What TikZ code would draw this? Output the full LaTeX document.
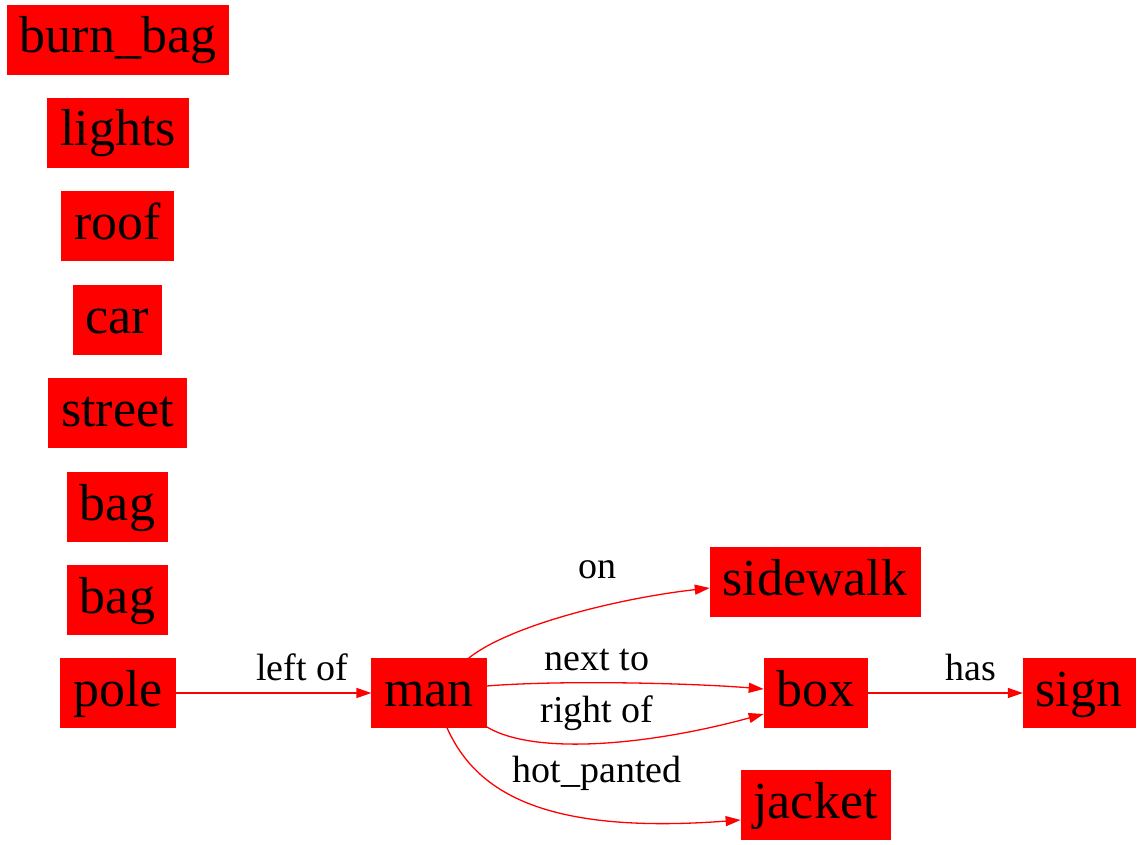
\documentclass[tikz,border=0pt]{standalone}
\usepackage{fontspec}
\setmainfont{Liberation Serif}
\usetikzlibrary{arrows.meta}
\tikzset{
  obj/.style={fill=red, draw=red, line width=0.6pt, inner xsep=12.5pt, inner ysep=0pt,
    minimum height=69pt, text height=39pt, text depth=12pt,
    font=\fontsize{52}{60}\selectfont},
  rel/.style={red, line width=1.3pt, -{Triangle[length=15pt,width=10pt]}},
  lbl/.style={anchor=base, inner sep=0pt, font=\fontsize{38}{44}\selectfont}
}
\begin{document}
\begin{tikzpicture}[x=1pt,y=-1pt]
\useasboundingbox[fill=white] (0,0) rectangle (1140,845);
\node[obj] (burnbag) at (118,39.5) {burn\_bag};
\node[obj] (lights) at (118,132.5) {lights};
\node[obj] (roof) at (117.5,226) {roof};
\node[obj] (car) at (117.5,319.5) {car};
\node[obj] (street) at (117.5,412.5) {street};
\node[obj] (bagA) at (117.5,506.5) {bag};
\node[obj] (bagB) at (117.5,599.5) {bag};
\node[obj] (pole) at (118,693) {pole};
\node[obj] (man) at (429,693) {man};
\node[obj] (sidewalk) at (815,581.5) {sidewalk};
\node[obj] (box) at (815.5,693) {box};
\node[obj] (sign) at (1079,693) {sign};
\node[obj] (jacket) at (815.5,804.5) {jacket};

\draw[rel] (pole.east) -- (man.west);
\draw[rel] (box.east) -- (sign.west);
\draw[rel] ([xshift=-18pt]man.north east) .. controls (510,625) and (620,598) .. ([yshift=-6.5pt]sidewalk.west);
\draw[rel] ([yshift=7pt]man.east) .. controls (560,680) and (690,683) .. ([yshift=4pt]box.west);
\draw[rel] ([yshift=1pt]man.south east) .. controls (535,756) and (650,745) .. ([yshift=-21pt]box.west);
\draw[rel] ([xshift=18pt]man.south) .. controls (475,790) and (540,835) .. ([yshift=-15.5pt]jacket.west);

\node[lbl] (lleft) at (302,680) {left of};
\node[lbl] (lhas) at (971,680) {has};
\node[lbl] (lon) at (597,578) {on};
\node[lbl] (lnext) at (597,670) {next to};
\node[lbl] (lright) at (597,722) {right of};
\node[lbl] (lhot) at (597,782) {hot\_panted};
\end{tikzpicture}
\end{document}
